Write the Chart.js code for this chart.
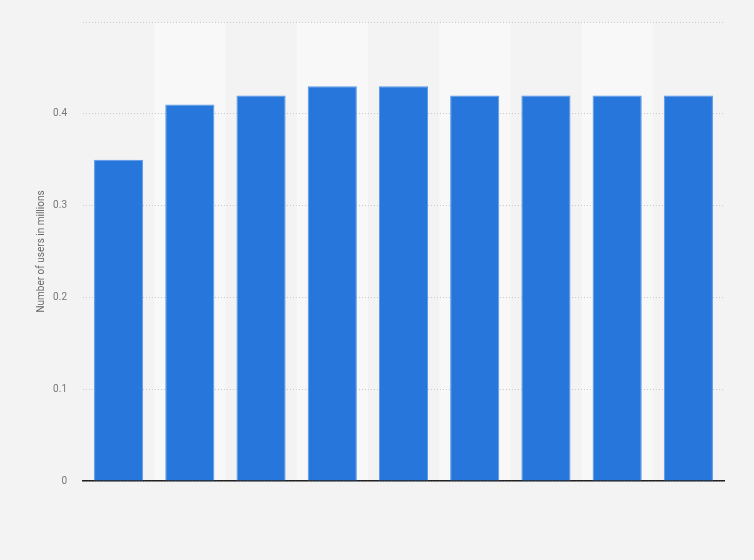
<!DOCTYPE html>
<html>
<head>
<meta charset="utf-8">
<script src="https://cdn.jsdelivr.net/npm/chart.js@4"></script>
<style>
  html, body { margin: 0; padding: 0; background: #f3f3f3; }
  #wrap { width: 754px; height: 560px; position: relative; }
</style>
</head>
<body>
<div id="wrap"><canvas id="chart"></canvas></div>
<script>
// Data
const categories = ['1', '2', '3', '4', '5', '6', '7', '8', '9'];
const users = [0.35, 0.41, 0.42, 0.43, 0.43, 0.42, 0.42, 0.42, 0.42];
const yTicks = [0, 0.1, 0.2, 0.3, 0.4, 0.5];

// alternating column shading behind everything
const stripes = {
    id: 'stripes',
    beforeDraw(chart) {
        const ctx = chart.ctx;
        const area = chart.chartArea;
        const x = chart.scales.x;
        const half = (x.getPixelForValue(1) - x.getPixelForValue(0)) / 2;
        ctx.save();
        ctx.fillStyle = '#f8f8f8';
        for (let i = 1; i < categories.length; i += 2) {
            const c = x.getPixelForValue(i);
            ctx.fillRect(c - half, area.top, half * 2, area.bottom - area.top);
        }
        ctx.restore();
    }
};

new Chart(document.getElementById('chart'), {
    type: 'bar',
    data: {
        labels: categories,
        datasets: [{
            label: 'Number of users in millions',
            data: users,
            backgroundColor: '#2776db',
            borderColor: '#5a97e6',
            borderWidth: 1,
            categoryPercentage: 1,
            barPercentage: 0.69
        }]
    },
    options: {
        responsive: true,
        maintainAspectRatio: false,
        animation: false,
        layout: { padding: { top: 16.5, right: 30, bottom: 79, left: 35 } },
        plugins: {
            legend: { display: false },
            tooltip: { enabled: false }
        },
        scales: {
            x: {
                grid: { display: false },
                ticks: { display: false },
                border: { display: true, color: '#222', width: 1.5 },
                afterFit(s) { s.height = 0; }
            },
            y: {
                min: 0,
                max: 0.5,
                afterBuildTicks(s) { s.ticks = yTicks.map(v => ({ value: v })); },
                afterFit(s) { s.width = 48; },
                border: { display: false, dash: [1, 2] },
                grid: {
                    color: '#c8c8c8',
                    lineWidth: 1,
                    drawTicks: false
                },
                ticks: {
                    color: '#777',
                    padding: 16,
                    font: { family: 'Roboto, Arial, sans-serif', size: 10 },
                    callback: v => (v === 0.5 ? '' : String(v))
                },
                title: {
                    display: true,
                    text: 'Number of users in millions',
                    color: '#666',
                    font: { family: 'Roboto, Arial, sans-serif', size: 10 },
                    padding: { top: 0, bottom: 4 }
                }
            }
        }
    },
    plugins: [stripes]
});
</script>
</body>
</html>
